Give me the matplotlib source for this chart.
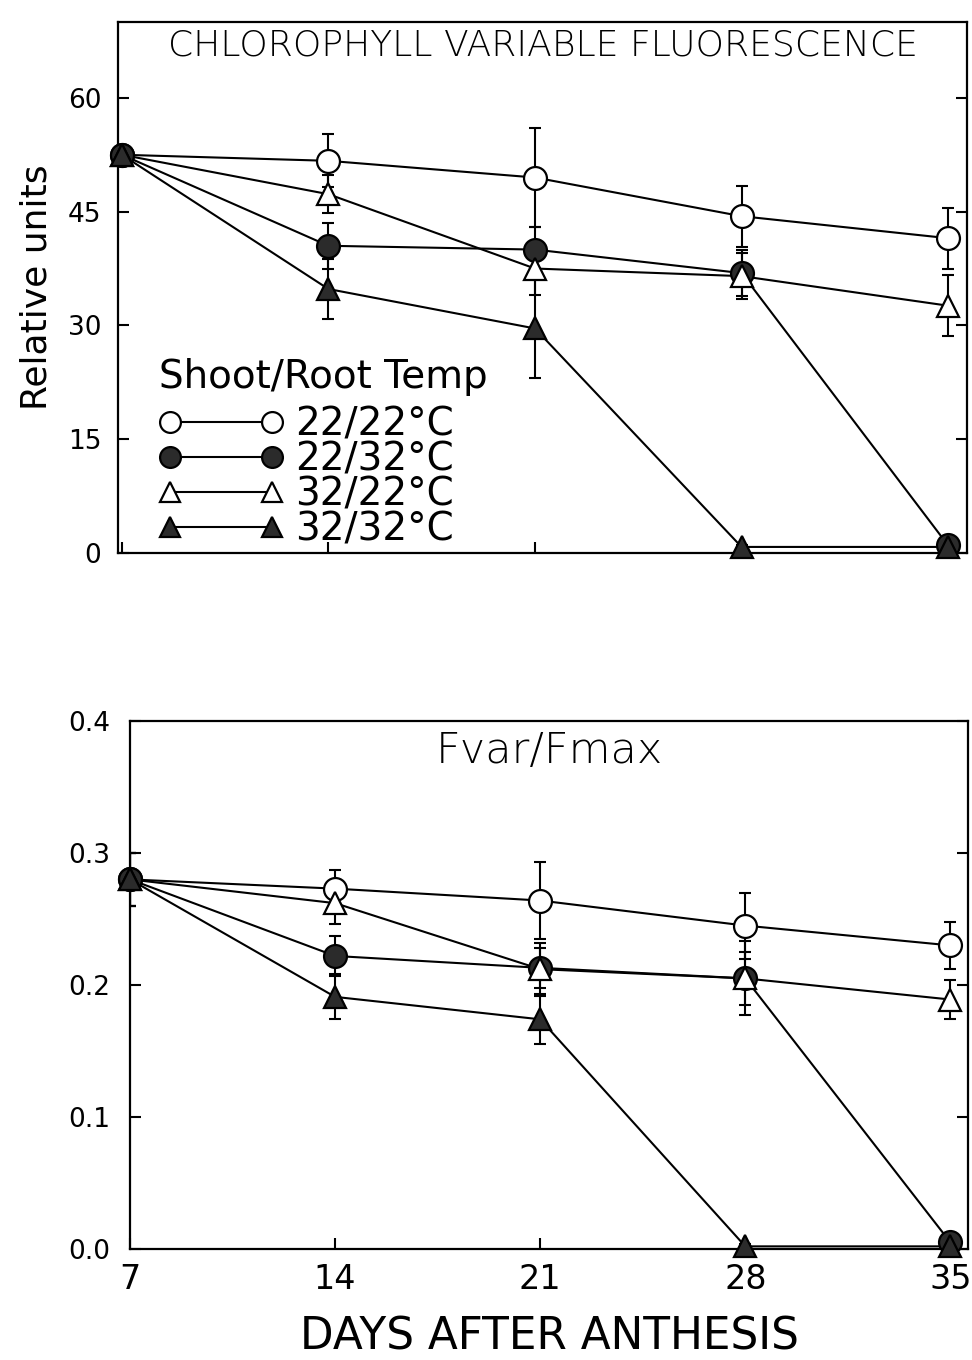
import matplotlib
matplotlib.use("Agg")
import matplotlib.pyplot as plt
import numpy as np

# days after anthesis
days = [7, 14, 21, 28, 35]

# chlorophyll variable fluorescence (relative units), mean and error
fv_22_22 = [52.5, 51.7, 49.5, 44.4, 41.5]
fv_22_32 = [52.5, 40.5, 40.0, 36.9, 1.0]
fv_32_22 = [52.5, 47.3, 37.5, 36.5, 32.6]
fv_32_32 = [52.5, 34.8, 29.6, 0.8, 0.8]
fv_err_22_22 = [0.8, 3.5, 6.5, 4.0, 4.0]
fv_err_22_32 = [0.8, 3.0, 3.0, 3.0, 0.4]
fv_err_32_22 = [0.8, 2.5, 3.5, 3.0, 4.0]
fv_err_32_32 = [0.8, 4.0, 6.5, 0.3, 0.3]

# Fvar/Fmax ratio
ratio_22_22 = [0.280, 0.273, 0.264, 0.245, 0.230]
ratio_22_32 = [0.280, 0.222, 0.213, 0.205, 0.005]
ratio_32_22 = [0.280, 0.262, 0.212, 0.205, 0.189]
ratio_32_32 = [0.280, 0.191, 0.174, 0.002, 0.002]
ratio_err_22_22 = [0.020, 0.014, 0.029, 0.025, 0.018]
ratio_err_22_32 = [0.020, 0.015, 0.015, 0.028, 0.003]
ratio_err_32_22 = [0.020, 0.016, 0.020, 0.020, 0.015]
ratio_err_32_32 = [0.020, 0.017, 0.019, 0.002, 0.002]

treatments = ["22/22°C", "22/32°C", "32/22°C", "32/32°C"]
DARK = "#2b2b2b"
styles = [("o", "white"), ("o", DARK), ("^", "white"), ("^", DARK)]

plt.rcParams["font.family"] = ["DejaVu Sans"]

fig = plt.figure(figsize=(9.72, 13.6), dpi=100)
ax1 = fig.add_axes([118 / 972, 1 - 553 / 1360, 849 / 972, 531 / 1360])
ax2 = fig.add_axes([130 / 972, 1 - 1249 / 1360, 838 / 972, 528 / 1360])


def draw(ax, series, errs):
    handles = []
    for vals, err, (mk, fc), lbl in zip(series, errs, styles, treatments):
        ax.plot(days, vals, color="black", lw=1.5, zorder=2)
        ax.errorbar(days, vals, yerr=err, fmt="none", ecolor="black",
                    elinewidth=1.5, capsize=4, capthick=1.5, zorder=3)
        ax.plot(days, vals, ls="none", marker=mk, ms=16.5, mfc=fc,
                mec="black", mew=1.6, zorder=4, clip_on=False)
        lh, = ax.plot([], [], color="black", lw=1.5, marker=mk, ms=15,
                      mfc=fc, mec="black", mew=1.6, label=lbl)
        handles.append(lh)
    for s in ax.spines.values():
        s.set_linewidth(1.6)
    ax.tick_params(direction="in", length=8, width=1.5, right=True)
    return handles


hs = draw(ax1, [fv_22_22, fv_22_32, fv_32_22, fv_32_32],
          [fv_err_22_22, fv_err_22_32, fv_err_32_22, fv_err_32_32])
ax1.set_xlim(6.87, 35.64)
ax1.set_ylim(0, 70)
ax1.set_yticks([0, 15, 30, 45, 60])
ax1.set_xticks(days)
ax1.tick_params(axis="x", labelbottom=False)
ax1.tick_params(axis="y", labelsize=19, pad=12)
ax1.set_ylabel("Relative units", fontsize=26, labelpad=10)
ax1.text(0.5, 0.955, "CHLOROPHYLL VARIABLE FLUORESCENCE", transform=ax1.transAxes,
         ha="center", va="center", fontsize=26, fontweight="light")
leg = ax1.legend(handles=hs, title="Shoot/Root Temp", loc="upper left",
                 bbox_to_anchor=(0.048, 0.367), frameon=False, numpoints=2,
                 fontsize=28, title_fontsize=28, handlelength=3.2,
                 handletextpad=0.3, labelspacing=-0.08, borderpad=0.0,
                 borderaxespad=0.0)
leg._legend_box.align = "left"
leg._legend_box.sep = 7

draw(ax2, [ratio_22_22, ratio_22_32, ratio_32_22, ratio_32_32],
     [ratio_err_22_22, ratio_err_22_32, ratio_err_32_22, ratio_err_32_32])
ax2.set_xlim(7.0, 35.6)
ax2.set_ylim(0, 0.4)
ax2.set_yticks([0.0, 0.1, 0.2, 0.3, 0.4])
ax2.set_yticklabels(["0.0", "0.1", "0.2", "0.3", "0.4"])
ax2.set_xticks(days)
ax2.tick_params(axis="y", labelsize=19, pad=14)
ax2.tick_params(axis="x", labelsize=24, pad=10)
ax2.set_xlabel("DAYS AFTER ANTHESIS", fontsize=31.5, labelpad=14)
ax2.text(0.5, 0.945, "Fvar/Fmax", transform=ax2.transAxes,
         ha="center", va="center", fontsize=31, fontweight="light")

fig.savefig("out.png", dpi=100)
